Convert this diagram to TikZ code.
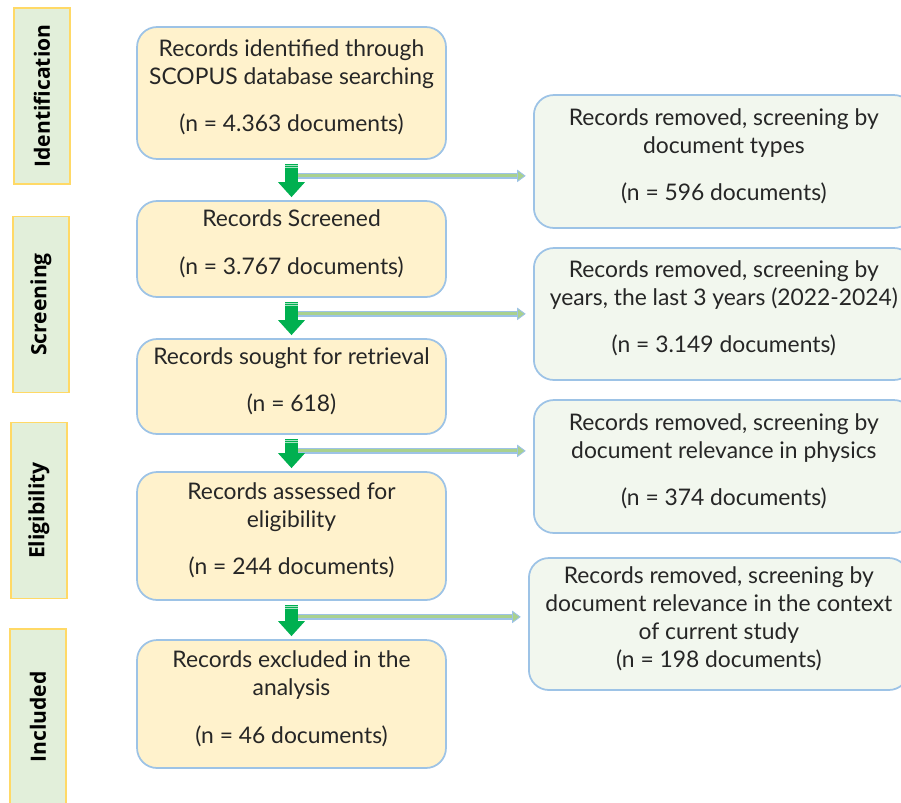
\documentclass[tikz,border=0pt]{standalone}
\usepackage{fontspec}
\setmainfont{Lato}
\newfontfamily\phasefont{Open Sans}
\usetikzlibrary{arrows.meta}

\definecolor{boxfill}{RGB}{255,242,204}
\definecolor{boxline}{RGB}{157,195,230}
\definecolor{phasefill}{RGB}{226,239,218}
\definecolor{phaseline}{RGB}{255,217,102}
\definecolor{outfill}{RGB}{242,247,238}
\definecolor{arrowgreen}{RGB}{0,176,80}
\definecolor{shaftgreen}{RGB}{169,209,142}
\definecolor{textgray}{RGB}{38,38,38}

\tikzset{
  stepbox/.style={draw=boxline, fill=boxfill, line width=1pt, rounded corners=0.4cm,
    minimum width=6.18cm, align=center, text=textgray, text depth=8pt,
    font=\fontsize{13}{15.9}\selectfont},
  outbox/.style={stepbox, fill=outfill, minimum width=7.6cm},
  phasebox/.style={draw=phaseline, fill=phasefill, line width=1pt, rotate=90,
    minimum width=3.52cm, minimum height=1.12cm, font=\phasefont\bfseries\fontsize{12}{14}\selectfont},
  downarrow/.style={arrowgreen, line width=0.26cm, -{Triangle[width=0.52cm, length=0.3cm]}},
}

\begin{document}
\begin{tikzpicture}[x=0.02cm, y=-0.02cm]
  \useasboundingbox (0,0) rectangle (901,802);

  % Phases
  \foreach \xpos/\ypos/\name/\phase in {42/96/id/Identification, 41/304.5/sc/Screening,
      39/510.5/el/Eligibility, 38/717/in/Included} {
    \node[phasebox] (\name) at (\xpos,\ypos) {\phase};
  }

  % Records kept
  \node[stepbox, minimum height=2.64cm] (ident) at (291.5,93)
    {Records identified through\\SCOPUS database searching\\[11pt](n = 4.363 documents)};
  \node[stepbox, minimum height=1.92cm] (screen) at (291.5,249)
    {Records Screened\\[11pt](n = 3.767 documents)};
  \node[stepbox, minimum height=1.9cm] (sought) at (291.5,386.5)
    {Records sought for retrieval\\[11pt](n = 618)};
  \node[stepbox, minimum height=2.56cm] (assess) at (291.5,536)
    {Records assessed for\\eligibility\\[11pt](n = 244 documents)};
  \node[stepbox, minimum height=2.56cm] (excl) at (291.5,704)
    {Records excluded in the\\analysis\\[11pt](n = 46 documents)};

  % Records removed
  \node[outbox, minimum height=2.66cm, anchor=west] (out1) at (533,161.5)
    {Records removed, screening by\\document types\\[11pt](n = 596 documents)};
  \node[outbox, minimum height=2.64cm, anchor=west] (out2) at (533,314)
    {Records removed, screening by\\years, the last 3 years (2022-2024)\\[11pt](n = 3.149 documents)};
  \node[outbox, minimum height=2.66cm, anchor=west] (out3) at (533,466.5)
    {Records removed, screening by\\document relevance in physics\\[11pt](n = 374 documents)};
  \node[outbox, minimum height=2.64cm, anchor=west] (out4) at (528,624)
    {Records removed, screening by\\document relevance in the context\\of current study\\(n = 198 documents)};

  % Arrows
  \foreach \a/\b/\c in {ident/screen/out1, screen/sought/out2, sought/assess/out3, assess/excl/out4} {
    \coordinate (s\a) at ([xshift=0.11cm, yshift=-0.32cm]\a.south);
    \coordinate (e\a) at ([xshift=-0.16cm]\c.west |- s\a);
    \draw[boxline, line width=0.11cm] (s\a) -- ([xshift=-0.12cm]e\a);
    \draw[shaftgreen, line width=0.06cm] (s\a) -- ([xshift=-0.12cm]e\a);
    \draw[boxline, fill=shaftgreen, line width=0.5pt]
      ([xshift=-0.15cm, yshift=0.11cm]e\a) -- (e\a) -- ([xshift=-0.15cm, yshift=-0.11cm]e\a) -- cycle;
    \draw[downarrow] ([yshift=-0.08cm]\a.south) -- ([yshift=0.06cm]\b.north);
    \draw[arrowgreen!35, line width=0.7pt] ([xshift=-0.13cm, yshift=-0.11cm]\a.south) -- ++(13,0);
    \draw[arrowgreen!35, line width=0.7pt] ([xshift=-0.13cm, yshift=-0.16cm]\a.south) -- ++(13,0);
  }
\end{tikzpicture}
\end{document}
